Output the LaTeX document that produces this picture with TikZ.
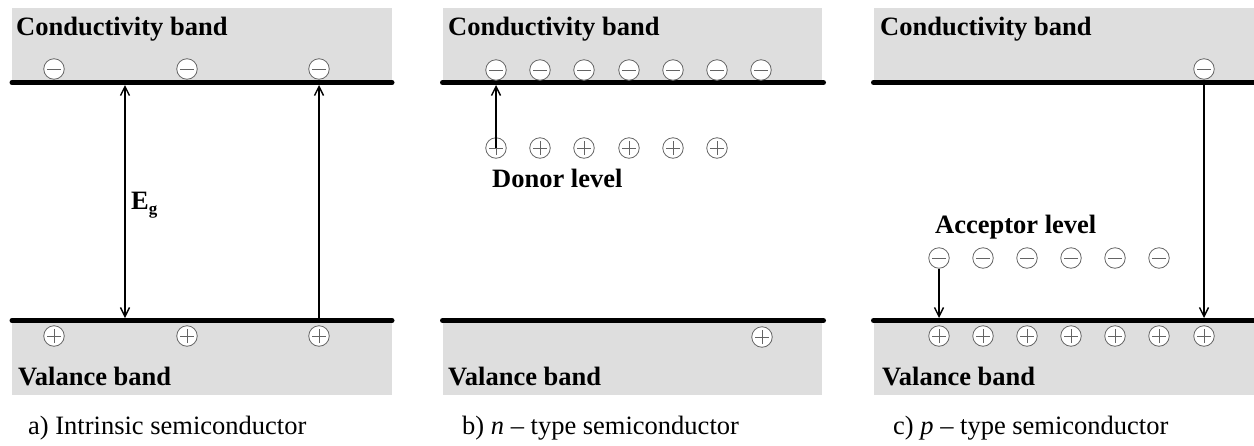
\documentclass[tikz,border=0pt]{standalone}
\usepackage{fontspec}
\setmainfont{Liberation Serif}
\usetikzlibrary{arrows.meta}
\definecolor{bandgray}{RGB}{222,222,222}
\definecolor{circgray}{RGB}{100,100,100}
\begin{document}
\begin{tikzpicture}[x=1pt,y=-1pt,
  band/.style={fill=bandgray, draw=none},
  bar/.style={line width=5pt, line cap=round},
  charge/.style={circle, draw=circgray, fill=white, line width=0.8pt, minimum size=20.5pt, inner sep=0pt},
  elec/.style={charge, path picture={\draw[circgray, line width=1pt] ([xshift=-7pt]path picture bounding box.center) -- ([xshift=7pt]path picture bounding box.center);}},
  hole/.style={charge, path picture={\draw[circgray, line width=1pt] ([xshift=-7pt]path picture bounding box.center) -- ([xshift=7pt]path picture bounding box.center) ([yshift=-7pt]path picture bounding box.center) -- ([yshift=7pt]path picture bounding box.center);}},
  arr/.style={line width=1.4pt, -{Straight Barb[length=9pt,width=9pt,line width=1.4pt]}},
  darr/.style={line width=1.4pt, {Straight Barb[length=9pt,width=9pt,line width=1.4pt]}-{Straight Barb[length=9pt,width=9pt,line width=1.4pt]}},
  bandlabel/.style={anchor=base west, inner sep=0pt, font=\fontsize{26.5}{30}\selectfont\bfseries},
  caption/.style={anchor=base west, inner sep=0pt, font=\fontsize{26.5}{30}\selectfont}
]
\useasboundingbox (0,0) rectangle (1254,445);
\fill[white] (0,0) rectangle (1254,445);

% ---------- bands ----------
\fill[band] (12,8) rectangle (392,82.5);
\fill[band] (12,320.5) rectangle (392,395);
\fill[band] (443,8) rectangle (822,82.5);
\fill[band] (443,320.5) rectangle (822,395);
\fill[band] (874,8) rectangle (1254,82.5);
\fill[band] (874,320.5) rectangle (1254,395);

\draw[bar] (12,82.5) -- (392,82.5);
\draw[bar] (12,320.5) -- (392,320.5);
\draw[bar] (442.5,82.5) -- (823.5,82.5);
\draw[bar] (442.5,320.5) -- (823.5,320.5);
\draw[bar] (873.5,82.5) -- (1256,82.5);
\draw[bar] (873.5,320.5) -- (1256,320.5);

% ---------- labels ----------
\node[bandlabel] (ca) at (16,35) {Conductivity band};
\node[bandlabel] (va) at (18,385) {Valance band};
\node[bandlabel] (cb) at (448,35) {Conductivity band};
\node[bandlabel] (vb) at (448,385) {Valance band};
\node[bandlabel] (cc) at (880,35) {Conductivity band};
\node[bandlabel] (vc) at (882,385) {Valance band};
\node[bandlabel] (donor) at (492,187) {Donor level};
\node[bandlabel] (acc) at (935,233) {Acceptor level};

\node[caption] (capa) at (28,434) {a) Intrinsic semiconductor};
\node[caption] (capb) at (462,434) {b) \textit{n} – type semiconductor};
\node[caption] (capc) at (893,434) {c) \textit{p} – type semiconductor};

% ---------- panel a ----------
\node[elec] (ae1) at (54,69) {};
\node[elec] (ae2) at (187,69) {};
\node[elec] (ae3) at (319,69) {};
\node[hole] (ah1) at (54,336) {};
\node[hole] (ah2) at (187,336) {};
\node[hole] (ah3) at (319,336) {};
\coordinate (at1) at (125,85);
\coordinate (ab1) at (125,318);
\coordinate (at3) at (319,85);
\coordinate (ab3) at (319,318);
\draw[darr] (at1) -- (ab1);
\draw[arr] (ab3) -- (at3);
\node[anchor=base west, inner sep=0pt, font=\fontsize{26.5}{30}\selectfont\bfseries] (eg) at (131,209) {E\raisebox{-5pt}{\fontsize{17}{17}\selectfont g}};

% ---------- panel b ----------
\foreach \i/\x in {1/496,2/540,3/584,4/629,5/673,6/717,7/761}{
  \node[elec] (be\i) at (\x,70) {};
}
\foreach \i/\x in {1/496,2/540,3/584,4/629,5/673,6/717}{
  \node[hole] (bd\i) at (\x,148) {};
}
\node[hole] (bh7) at (762,337) {};
\coordinate (bt1) at (496,85);
\draw[arr] (bd1.center) -- (bt1);

% ---------- panel c ----------
\node[elec] (ce7) at (1204,69) {};
\foreach \i/\x in {1/939,2/983,3/1027,4/1071,5/1115,6/1159}{
  \node[elec] (ca\i) at (\x,258) {};
}
\foreach \i/\x in {1/939,2/983,3/1027,4/1071,5/1115,6/1159,7/1204}{
  \node[hole] (ch\i) at (\x,336) {};
}
\coordinate (cb1) at (939,318);
\coordinate (ct7) at (1204,85);
\coordinate (cb7) at (1204,318);
\draw[arr] (ca1.south) -- (cb1);
\draw[arr] (ct7) -- (cb7);
\end{tikzpicture}
\end{document}
